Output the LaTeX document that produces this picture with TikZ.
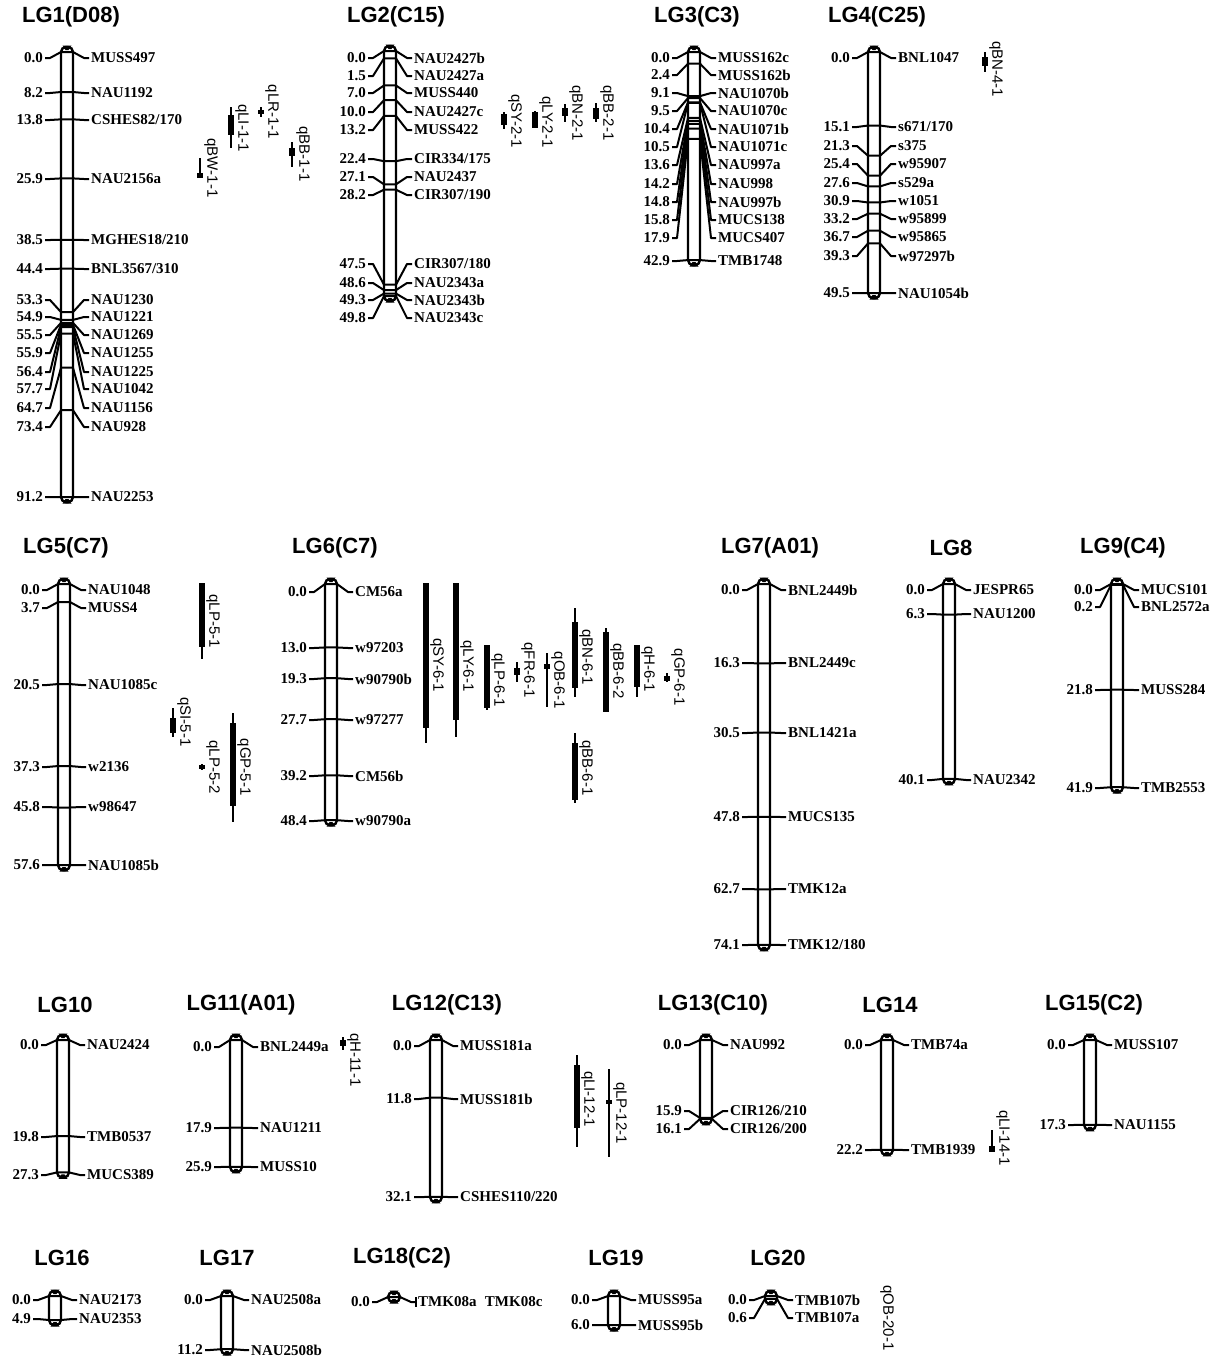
\documentclass[tikz,border=0pt]{standalone}
\usepackage{fontspec}
\setmainfont{Liberation Serif}
\setsansfont{Liberation Sans}
\usetikzlibrary{positioning}
\newcounter{mkc}
\tikzset{
  chrom/.style={draw=black,line width=2.4pt,rounded corners=5pt},
  link/.style={draw=black,line width=2pt,line join=round},
  numlab/.style={anchor=east,inner sep=2pt,font=\fontsize{15}{15}\selectfont\bfseries},
  mklab/.style={anchor=west,inner sep=2pt,font=\fontsize{15}{15}\selectfont\bfseries},
  lgtitle/.style={inner sep=0pt,font=\fontsize{22}{22}\selectfont\sffamily\bfseries},
  qtlthin/.style={line width=1.8pt},
  qtlbar/.style={line width=5.5pt},
  qtllab/.style={rotate=-90,anchor=south,inner sep=0pt,font=\fontsize{15}{15}\selectfont\sffamily}
}
% linkage group: name, x, top, px per cM, length, title x, title y, title
\newcommand\linkgroup[8]{%
  \def\lgx{#2}\def\lgtop{#3}\def\lgk{#4}%
  \pgfmathsetmacro\lgbot{#3+#4*#5}%
  \node[lgtitle] (#1) at (#6,#7) {#8};
  \draw[chrom] (#2-6,#3-5) rectangle (#2+6,\lgbot+5);
  \fill (#2-4.5,#3-6.5) -- (#2+4.5,#3-6.5) -- (#2+1.5,#3-2) -- (#2-1.5,#3-2) -- cycle;
  \fill (#2-4.5,\lgbot+6.5) -- (#2+4.5,\lgbot+6.5) -- (#2+1.5,\lgbot+2) -- (#2-1.5,\lgbot+2) -- cycle;
}
% marker: cM, label y, name
\newcommand\mk[3]{%
  \pgfmathsetmacro\my{\lgtop+\lgk*#1}%
  \stepcounter{mkc}\edef\mkn{\arabic{mkc}}%
  \node[numlab] (n\mkn) at (\lgx-22,#2) {#1};
  \node[mklab] (m\mkn) at (\lgx+22,#2) {#3};
  \draw[link] (n\mkn.east) -- (\lgx-17,#2) -- (\lgx-6,\my) -- (\lgx+6,\my) -- (\lgx+17,#2) -- (m\mkn.west);
}
% qtl: name, x, thin top, thin bottom, bar top, bar bottom, label y, label
\newcommand\qtl[8]{%
  \coordinate (#1a) at (#2,#3); \coordinate (#1b) at (#2,#4);
  \draw[qtlthin] (#1a) -- (#1b);
  \draw[qtlbar] (#2,#5) -- (#2,#6);
  \node[qtllab] (#1) at (#2+4,#7) {#8};
}
\begin{document}
\begin{tikzpicture}[x=1pt,y=-1pt]
\useasboundingbox (0,0) rectangle (1225,1358);
\fill[white] (0,0) rectangle (1225,1358);

% row 1
\linkgroup{lg1}{67}{52}{4.88}{91.2}{71}{17}{LG1(D08)}
\mk{0.0}{58}{MUSS497}
\mk{8.2}{93}{NAU1192}
\mk{13.8}{120}{CSHES82/170}
\mk{25.9}{179}{NAU2156a}
\mk{38.5}{240}{MGHES18/210}
\mk{44.4}{269}{BNL3567/310}
\mk{53.3}{300}{NAU1230}
\mk{54.9}{317}{NAU1221}
\mk{55.5}{335}{NAU1269}
\mk{55.9}{353}{NAU1255}
\mk{56.4}{372}{NAU1225}
\mk{57.7}{389}{NAU1042}
\mk{64.7}{408}{NAU1156}
\mk{73.4}{427}{NAU928}
\mk{91.2}{497}{NAU2253}
\qtl{bw11}{200}{158}{178}{173}{178}{168}{qBW-1-1}
\qtl{li11}{231}{107}{148}{115}{135}{128}{qLI-1-1}
\qtl{lr11}{261}{107}{117}{110}{114}{112}{qLR-1-1}
\qtl{bb11}{292}{142}{167}{148}{156}{154}{qBB-1-1}

\linkgroup{lg2}{390}{51}{4.92}{49.8}{396}{17}{LG2(C15)}
\mk{0.0}{58}{NAU2427b}
\mk{1.5}{76}{NAU2427a}
\mk{7.0}{93}{MUSS440}
\mk{10.0}{112}{NAU2427c}
\mk{13.2}{130}{MUSS422}
\mk{22.4}{159}{CIR334/175}
\mk{27.1}{177}{NAU2437}
\mk{28.2}{195}{CIR307/190}
\mk{47.5}{264}{CIR307/180}
\mk{48.6}{283}{NAU2343a}
\mk{49.3}{300}{NAU2343b}
\mk{49.8}{318}{NAU2343c}
\qtl{sy21}{504}{112}{129}{114}{125}{121}{qSY-2-1}
\qtl{ly21}{535}{111}{128}{112}{128}{122}{qLY-2-1}
\qtl{bn21}{565}{104}{122}{108}{116}{113}{qBN-2-1}
\qtl{bb21}{596}{103}{122}{108}{119}{113}{qBB-2-1}

\linkgroup{lg3}{694}{52}{4.85}{42.9}{697}{17}{LG3(C3)}
\mk{0.0}{58}{MUSS162c}
\mk{2.4}{75}{MUSS162b}
\mk{9.1}{93}{NAU1070b}
\mk{9.5}{111}{NAU1070c}
\mk{10.4}{129}{NAU1071b}
\mk{10.5}{147}{NAU1071c}
\mk{13.6}{165}{NAU997a}
\mk{14.2}{184}{NAU998}
\mk{14.8}{202}{NAU997b}
\mk{15.8}{220}{MUCS138}
\mk{17.9}{238}{MUCS407}
\mk{42.9}{261}{TMB1748}

\linkgroup{lg4}{874}{52}{4.87}{49.5}{877}{17}{LG4(C25)}
\mk{0.0}{58}{BNL1047}
\mk{15.1}{127}{s671/170}
\mk{21.3}{146}{s375}
\mk{25.4}{164}{w95907}
\mk{27.6}{183}{s529a}
\mk{30.9}{201}{w1051}
\mk{33.2}{219}{w95899}
\mk{36.7}{237}{w95865}
\mk{39.3}{256}{w97297b}
\mk{49.5}{293}{NAU1054b}
\qtl{bn41}{985}{52}{72}{57}{66}{69}{qBN-4-1}

% row 2
\linkgroup{lg5}{64}{584}{4.88}{57.6}{66}{548}{LG5(C7)}
\mk{0.0}{590}{NAU1048}
\mk{3.7}{608}{MUSS4}
\mk{20.5}{685}{NAU1085c}
\mk{37.3}{767}{w2136}
\mk{45.8}{807}{w98647}
\mk{57.6}{865}{NAU1085b}
\qtl{lp51}{202}{583}{659}{583}{647}{621}{qLP-5-1}
\qtl{si51}{173}{708}{737}{718}{733}{722}{qSI-5-1}
\qtl{lp52}{202}{764}{770}{765}{769}{767}{qLP-5-2}
\qtl{gp51}{233}{713}{822}{723}{806}{767}{qGP-5-1}

\linkgroup{lg6}{331}{584}{4.88}{48.4}{335}{548}{LG6(C7)}
\mk{0.0}{592}{CM56a}
\mk{13.0}{648}{w97203}
\mk{19.3}{679}{w90790b}
\mk{27.7}{720}{w97277}
\mk{39.2}{776}{CM56b}
\mk{48.4}{821}{w90790a}
\qtl{sy61}{426}{583}{743}{583}{728}{665}{qSY-6-1}
\qtl{ly61}{456}{583}{737}{583}{720}{666}{qLY-6-1}
\qtl{lp61}{487}{645}{710}{645}{708}{680}{qLP-6-1}
\qtl{fr61}{517}{662}{682}{668}{675}{670}{qFR-6-1}
\qtl{ob61}{547}{653}{707}{664}{669}{680}{qOB-6-1}
\qtl{bn61}{575}{608}{697}{622}{688}{657}{qBN-6-1}
\qtl{bb62}{606}{628}{712}{632}{712}{671}{qBB-6-2}
\qtl{h61}{637}{645}{697}{645}{687}{669}{qH-6-1}
\qtl{gp61}{667}{673}{682}{676}{681}{677}{qGP-6-1}
\qtl{bb61}{575}{733}{803}{743}{800}{768}{qBB-6-1}

\linkgroup{lg7}{764}{584}{4.87}{74.1}{770}{548}{LG7(A01)}
\mk{0.0}{590}{BNL2449b}
\mk{16.3}{663}{BNL2449c}
\mk{30.5}{733}{BNL1421a}
\mk{47.8}{817}{MUCS135}
\mk{62.7}{889}{TMK12a}
\mk{74.1}{945}{TMK12/180}

\linkgroup{lg8}{949}{584}{4.86}{40.1}{951}{548}{LG8}
\mk{0.0}{590}{JESPR65}
\mk{6.3}{614}{NAU1200}
\mk{40.1}{780}{NAU2342}

\linkgroup{lg9}{1117}{584}{4.85}{41.9}{1123}{548}{LG9(C4)}
\mk{0.0}{590}{MUCS101}
\mk{0.2}{607}{BNL2572a}
\mk{21.8}{690}{MUSS284}
\mk{41.9}{788}{TMB2553}

% row 3
\linkgroup{lg10}{63}{1040}{4.85}{27.3}{65}{1005}{LG10}
\mk{0.0}{1045}{NAU2424}
\mk{19.8}{1137}{TMB0537}
\mk{27.3}{1175}{MUCS389}

\linkgroup{lg11}{236}{1040}{4.9}{25.9}{241}{1005}{LG11(A01)}
\mk{0.0}{1047}{BNL2449a}
\mk{17.9}{1128}{NAU1211}
\mk{25.9}{1167}{MUSS10}
\qtl{h111}{343}{1037}{1050}{1040}{1046}{1060}{qH-11-1}

\linkgroup{lg12}{436}{1040}{4.89}{32.1}{447}{1005}{LG12(C13)}
\mk{0.0}{1046}{MUSS181a}
\mk{11.8}{1099}{MUSS181b}
\mk{32.1}{1197}{CSHES110/220}
\qtl{li121}{577}{1055}{1147}{1065}{1128}{1099}{qLI-12-1}
\qtl{lp121}{609}{1069}{1157}{1100}{1104}{1113}{qLP-12-1}

\linkgroup{lg13}{706}{1040}{4.9}{16.1}{713}{1005}{LG13(C10)}
\mk{0.0}{1045}{NAU992}
\mk{15.9}{1111}{CIR126/210}
\mk{16.1}{1129}{CIR126/200}

\linkgroup{lg14}{887}{1040}{4.95}{22.2}{890}{1005}{LG14}
\mk{0.0}{1045}{TMB74a}
\mk{22.2}{1150}{TMB1939}
\qtl{li141}{992}{1130}{1152}{1146}{1152}{1138}{qLI-14-1}

\linkgroup{lg15}{1090}{1040}{4.9}{17.3}{1094}{1005}{LG15(C2)}
\mk{0.0}{1045}{MUSS107}
\mk{17.3}{1125}{NAU1155}

% row 4
\linkgroup{lg16}{55}{1296}{4.9}{4.9}{62}{1258}{LG16}
\mk{0.0}{1300}{NAU2173}
\mk{4.9}{1319}{NAU2353}

\linkgroup{lg17}{227}{1296}{4.75}{11.2}{227}{1258}{LG17}
\mk{0.0}{1300}{NAU2508a}
\mk{11.2}{1350}{NAU2508b}

\linkgroup{lg18}{394}{1297}{0}{0}{402}{1258}{LG18(C2)}
\mk{0.0}{1302}{TMK08a}
\draw[link] (m\mkn.west) ++(0,-5) -- ++(0,10);
\node[mklab,right=4pt of m\mkn] (tmk08c) {TMK08c};

\linkgroup{lg19}{614}{1296}{4.85}{6.0}{616}{1258}{LG19}
\mk{0.0}{1300}{MUSS95a}
\mk{6.0}{1325}{MUSS95b}

\linkgroup{lg20}{771}{1296}{4.9}{0.6}{778}{1258}{LG20}
\mk{0.0}{1300}{TMB107b}
\mk{0.6}{1318}{TMB107a}
\node[qtllab] (ob201) at (880,1318) {qOB-20-1};
\end{tikzpicture}
\end{document}
